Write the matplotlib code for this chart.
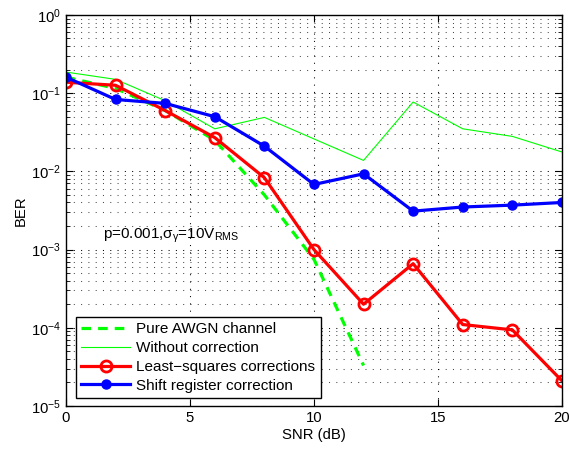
import matplotlib
matplotlib.use('Agg')
import matplotlib.pyplot as plt
import numpy as np

plt.rcParams['font.family'] = ['Liberation Sans', 'DejaVu Sans']
plt.rcParams['mathtext.fontset'] = 'custom'
plt.rcParams['mathtext.rm'] = 'Liberation Sans'
plt.rcParams['mathtext.it'] = 'Liberation Sans'

# SNR values (dB)
snr = [0, 2, 4, 6, 8, 10, 12, 14, 16, 18, 20]
snr_awgn = [0, 2, 4, 6, 8, 10, 12]

# BER curves
ber_awgn = [0.16, 0.115, 0.06, 0.025, 0.005, 7.5e-4, 3.3e-5]
ber_nocorr = [0.186, 0.15, 0.08, 0.035, 0.049, 0.026, 0.0138, 0.077, 0.035, 0.028, 0.0177]
ber_ls = [0.138, 0.126, 0.06, 0.027, 0.0083, 1.0e-3, 2.0e-4, 6.6e-4, 1.1e-4, 9.4e-5, 2.1e-5]
ber_shift = [0.16, 0.083, 0.074, 0.05, 0.021, 0.0068, 0.0093, 0.0031, 0.0035, 0.0037, 0.004]

fig = plt.figure(figsize=(5.7, 4.5), dpi=100)
ax = fig.add_axes([0.1158, 0.0978, 0.870, 0.869])

ax.semilogy(snr_awgn, ber_awgn, '--', color=(0, 1, 0), lw=2.3, dashes=(3, 2.2), label='Pure AWGN channel')
ax.semilogy(snr, ber_nocorr, '-', color=(0, 1, 0), lw=0.8, label='Without correction')
ax.semilogy(snr, ber_ls, '-o', color=(1, 0, 0), lw=2.3, markersize=8, markerfacecolor='none',
            markeredgewidth=2, label='Least\u2212squares corrections')
ax.semilogy(snr, ber_shift, '-o', color=(0, 0, 1), lw=2.3, markersize=6.5, label='Shift register correction')

ax.set_xlim(0, 20)
ax.set_ylim(1e-5, 1)
ax.set_xticks([0, 5, 10, 15, 20])
ax.set_yticks([1e-5, 1e-4, 1e-3, 1e-2, 1e-1, 1])
ax.set_xlabel('SNR (dB)', fontsize=10.7, labelpad=2)
ax.set_ylabel('BER', fontsize=10.7, labelpad=2)

# sparse MATLAB-like dotted grid
ax.grid(True, which='major', axis='both', color='black', lw=0.75, dashes=(1, 6))
ax.grid(True, which='minor', axis='y', color='black', lw=0.75, dashes=(1, 6), alpha=0.7)
ax.tick_params(which='both', direction='in', top=True, right=True, labelsize=10.7)
ax.tick_params(which='major', length=5)
ax.tick_params(which='minor', length=3)
for s in ax.spines.values():
    s.set_linewidth(1)

ax.text(1.5, 1.4e-3, r'p=0.001,$\sigma_{\gamma}$=10V$_{RMS}$', fontsize=11)

leg = ax.legend(loc='lower left', bbox_to_anchor=(0.02, 0.02), fontsize=11, fancybox=False,
                framealpha=1, edgecolor='black', borderpad=0.35, labelspacing=0.32,
                handlelength=3.2, handletextpad=0.4, borderaxespad=0)
leg.get_frame().set_linewidth(1)

fig.savefig('out.png', dpi=100)
